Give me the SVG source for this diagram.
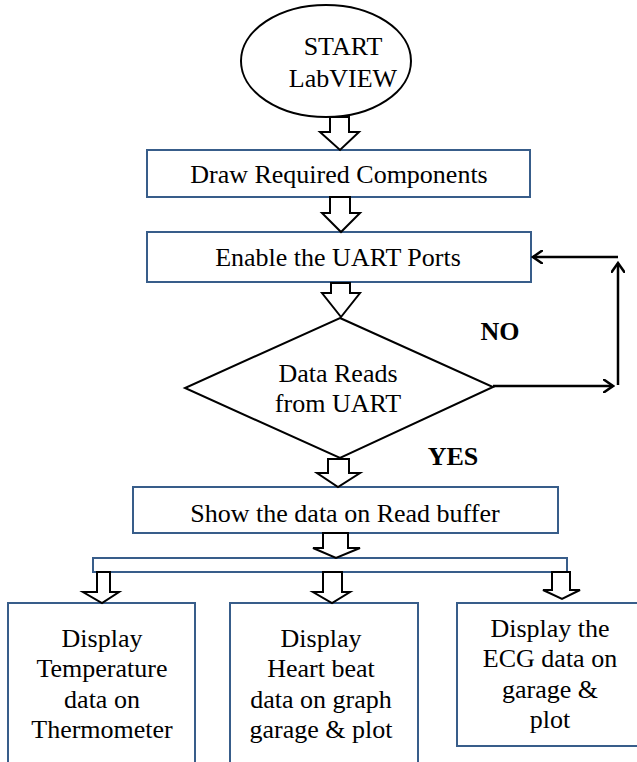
<svg xmlns="http://www.w3.org/2000/svg" width="637" height="762" viewBox="0 0 637 762">
<style>
.box{fill:#fff;stroke:#385D8A;stroke-width:2}
.term{fill:#fff;stroke:#000;stroke-width:2}
.blk{fill:#fff;stroke:#000;stroke-width:2;stroke-linejoin:miter}
.ln{fill:none;stroke:#000;stroke-width:2.5}
text{font-family:'Liberation Serif','DejaVu Serif',serif;font-size:26px;fill:#000;text-anchor:middle}
.b{font-weight:bold}
</style>
<defs>
<marker id="open" markerWidth="12" markerHeight="14" refX="10" refY="7" orient="auto" markerUnits="userSpaceOnUse">
<path d="M0,0 L10,7 L0,14" fill="none" stroke="#000" stroke-width="2.5"/>
</marker>
</defs>
<g id="start">
<ellipse class="term" cx="326" cy="61" rx="85" ry="56"/>
<text x="343" y="55">START</text>
<text x="343" y="87">LabVIEW</text>
</g>
<g id="draw">
<rect class="box" x="147" y="150" width="383" height="47"/>
<text x="339" y="183">Draw Required Components</text>
</g>
<g id="enable">
<rect class="box" x="147" y="232" width="384" height="50"/>
<text x="338" y="266">Enable the UART Ports</text>
</g>
<g id="decision">
<polygon class="term" points="340,318 493,387 340,458 185,388"/>
<text x="338" y="382">Data Reads</text>
<text x="338" y="412">from UART</text>
</g>
<g id="show">
<rect class="box" x="133" y="487" width="425" height="46"/>
<text x="345" y="522">Show the data on Read buffer</text>
</g>
<g id="bus">
<rect class="box" x="93" y="558" width="474" height="14"/>
</g>
<g id="temp">
<rect class="box" x="8" y="603" width="187" height="170"/>
<text x="102" y="647">Display</text>
<text x="102" y="677">Temperature</text>
<text x="102" y="708">data on</text>
<text x="102" y="738">Thermometer</text>
</g>
<g id="heart">
<rect class="box" x="230" y="603" width="188" height="170"/>
<text x="321" y="647">Display</text>
<text x="321" y="677">Heart beat</text>
<text x="321" y="708">data on graph</text>
<text x="321" y="738">garage &amp; plot</text>
</g>
<g id="ecg">
<rect class="box" x="457" y="603" width="190" height="143"/>
<text x="550" y="637">Display the</text>
<text x="550" y="667">ECG data on</text>
<text x="550" y="698">garage &amp;</text>
<text x="550" y="728">plot</text>
</g>
<g id="connectors">
<path class="blk" d="M330,117 L349,117 L349,132 L359,132 L340,150 L320,132 L330,132 Z"/>
<path class="blk" d="M330,197 L350,197 L350,213 L360,213 L341,232 L322,213 L330,213 Z"/>
<path class="blk" d="M331,283 L350,283 L350,293 L360,293 L341,317 L322,293 L331,293 Z"/>
<path class="blk" d="M328,459 L349,459 L349,473 L360,473 L338,487 L317,473 L328,473 Z"/>
<path class="blk" d="M323,533 L348,533 L348,548 L360,548 L336,558 L313,548 L323,548 Z"/>
<path class="blk" d="M97,572 L110,572 L110,592 L119,592 L102,603 L83,592 L97,592 Z"/>
<path class="blk" d="M323,572 L342,572 L342,592 L350,592 L332,603 L313,592 L323,592 Z"/>
<path class="blk" d="M552,572 L570,572 L570,590 L580,590 L562,599 L543,590 L552,590 Z"/>
<line class="ln" x1="493" y1="386" x2="613" y2="386" marker-end="url(#open)"/>
<line class="ln" x1="618" y1="385" x2="618" y2="263" marker-end="url(#open)"/>
<line class="ln" x1="618" y1="257" x2="533" y2="257" marker-end="url(#open)"/>
<text class="b" x="500" y="340">NO</text>
<text class="b" x="453" y="465">YES</text>
</g>
</svg>
